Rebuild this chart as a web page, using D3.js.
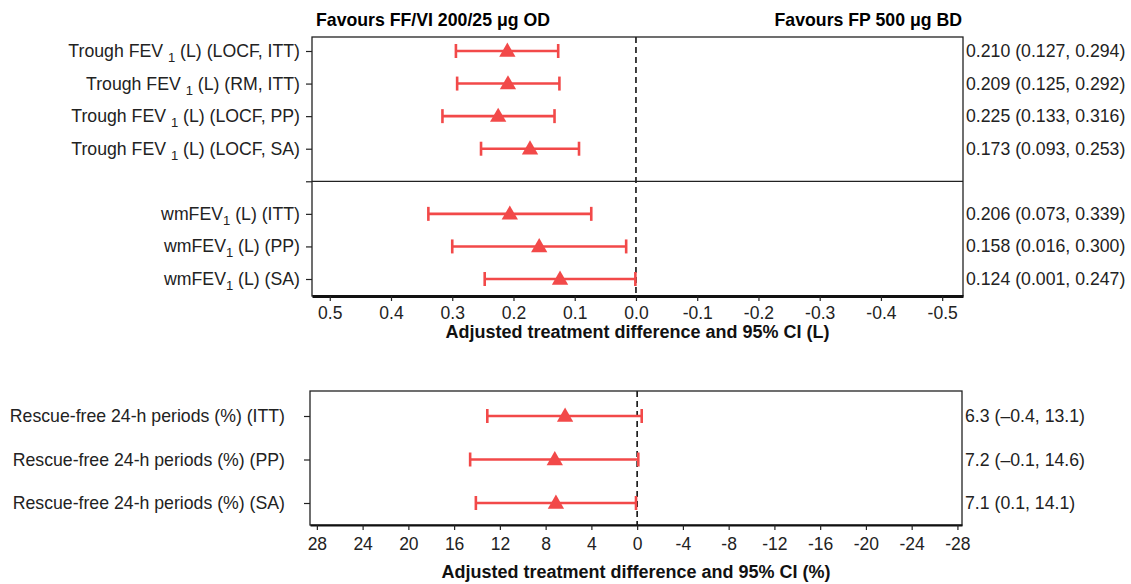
<!DOCTYPE html>
<html>
<head>
<meta charset="utf-8">
<script src="https://cdn.jsdelivr.net/npm/d3@7"></script>
<style>
  body { margin: 0; background: #fff; }
  text { font-family: "Liberation Sans", Arial, sans-serif; }
</style>
</head>
<body>
<svg width="1131" height="584"></svg>
<script>
// FEV1 rows (top panel)
var troughLabels = ["(LOCF, ITT)", "(RM, ITT)", "(LOCF, PP)", "(LOCF, SA)"];
var troughEst = [0.210, 0.209, 0.225, 0.173];
var troughLo = [0.127, 0.125, 0.133, 0.093];
var troughHi = [0.294, 0.292, 0.316, 0.253];

var wmLabels = ["(ITT)", "(PP)", "(SA)"];
var wmEst = [0.206, 0.158, 0.124];
var wmLo = [0.073, 0.016, 0.001];
var wmHi = [0.339, 0.300, 0.247];

var topTicks = [0.5, 0.4, 0.3, 0.2, 0.1, 0, -0.1, -0.2, -0.3, -0.4, -0.5];

// rescue-free rows (bottom panel)
var rescueLabels = ["(ITT)", "(PP)", "(SA)"];
var rescueEst = [6.3, 7.2, 7.1];
var rescueLo = [-0.4, -0.1, 0.1];
var rescueHi = [13.1, 14.6, 14.1];

var bottomTicks = [28, 24, 20, 16, 12, 8, 4, 0, -4, -8, -12, -16, -20, -24, -28];

var red = "#f24949";
var fs = 17.7;
var svg = d3.select("svg");

// ---- top panel ----
var x1 = d3.scaleLinear().domain([0.529, -0.534]).range([312, 963]);
var y1 = d3.scaleLinear().domain([0, 7]).range([51, 279]);

var topRows = [];
troughLabels.forEach(function(l, i) {
    topRows.push({pre: "Trough FEV ", post: " (L) " + l, idx: i,
        est: troughEst[i], lo: troughLo[i], hi: troughHi[i]});
});
wmLabels.forEach(function(l, i) {
    topRows.push({pre: "wmFEV", post: " (L) " + l, idx: i + 5,
        est: wmEst[i], lo: wmLo[i], hi: wmHi[i]});
});

var f3 = d3.format(".3f");
var f1 = function(v) { return d3.format(".1f")(v).replace("\u2212", "\u2013"); };

drawPanel({
    x: x1, y: y1, top: 37, bottom: 296,
    rows: topRows, ticks: topTicks,
    tickFmt: function(d) { return d3.format(".1f")(d).replace("\u2212", "-"); },
    valFmt: f3, labelX: 300, leftTicks: [0, 1, 2, 3, 4, 5, 6, 7],
    title: "Adjusted treatment difference and 95% CI (L)", titleY: 338,
    tickPad: 6, thickBottom: true
});

// divider between trough and wm rows
svg.append("line")
    .attr("x1", x1.range()[0]).attr("x2", x1.range()[1])
    .attr("y1", y1(4)).attr("y2", y1(4))
    .attr("stroke", "#222").attr("stroke-width", 1.3);

svg.append("text").attr("x", 316).attr("y", 26)
    .attr("font-size", fs).attr("font-weight", "bold")
    .text("Favours FF/VI 200/25 \u03bcg OD");
svg.append("text").attr("x", 962).attr("y", 26)
    .attr("font-size", fs).attr("font-weight", "bold").attr("text-anchor", "end")
    .text("Favours FP 500 \u03bcg BD");

// ---- bottom panel ----
var x2 = d3.scaleLinear().domain([28.6, -28.4]).range([310, 962]);
var y2 = d3.scaleLinear().domain([0, 2]).range([416, 503]);

var bottomRows = rescueLabels.map(function(l, i) {
    return {pre: "Rescue-free 24-h periods (%) " + l, post: null, idx: i,
        est: rescueEst[i], lo: rescueLo[i], hi: rescueHi[i]};
});

drawPanel({
    x: x2, y: y2, top: 391, bottom: 525,
    rows: bottomRows, ticks: bottomTicks,
    tickFmt: function(d) { return String(d); },
    valFmt: f1, labelX: 285, leftTicks: [0, 1, 2],
    title: "Adjusted treatment difference and 95% CI (%)", titleY: 578,
    tickPad: 8, thickBottom: false
});

function drawPanel(p) {
    var g = svg.append("g");
    var xl = p.x.range()[0], xr = p.x.range()[1];

    // zero reference line
    g.append("line")
        .attr("x1", p.x(0)).attr("x2", p.x(0))
        .attr("y1", p.top).attr("y2", p.bottom)
        .attr("stroke", "#111").attr("stroke-width", 1.6)
        .attr("stroke-dasharray", "6,4");

    // frame
    g.append("rect")
        .attr("x", xl).attr("y", p.top)
        .attr("width", xr - xl).attr("height", p.bottom - p.top)
        .attr("fill", "none").attr("stroke", "#222").attr("stroke-width", 1.3);

    // x axis
    var ax = g.append("g")
        .attr("transform", "translate(0," + p.bottom + ")")
        .call(d3.axisBottom(p.x).tickValues(p.ticks).tickFormat(p.tickFmt)
            .tickSize(5).tickSizeOuter(0).tickPadding(p.tickPad));
    ax.select(".domain").attr("stroke", "#111")
        .attr("stroke-width", p.thickBottom ? 3 : 1.8);
    ax.selectAll(".tick line").attr("stroke", "#222").attr("stroke-width", 1.2);
    ax.selectAll(".tick text").attr("font-size", 17.5).attr("fill", "#222")
        .attr("font-family", "Liberation Sans, Arial, sans-serif");

    // y axis ticks
    var ay = g.append("g")
        .attr("transform", "translate(" + xl + ",0)")
        .call(d3.axisLeft(p.y).tickValues(p.leftTicks).tickFormat("")
            .tickSize(6).tickSizeOuter(0));
    ay.select(".domain").remove();
    ay.selectAll(".tick line").attr("stroke", "#222").attr("stroke-width", 1.2);

    // row labels
    p.rows.forEach(function(r) {
        var t = g.append("text")
            .attr("x", p.labelX).attr("y", p.y(r.idx) + 6)
            .attr("text-anchor", "end").attr("font-size", fs).attr("fill", "#222");
        t.append("tspan").text(r.pre);
        if (r.post !== null) {
            t.append("tspan").attr("dy", 5).attr("font-size", 13).text("1");
            t.append("tspan").attr("dy", -5).text(r.post);
        }
    });

    // CI bars
    var rows = g.selectAll("g.row").data(p.rows).enter().append("g").attr("class", "row");
    rows.append("line")
        .attr("x1", function(d) { return p.x(d.hi); })
        .attr("x2", function(d) { return p.x(d.lo); })
        .attr("y1", function(d) { return p.y(d.idx); })
        .attr("y2", function(d) { return p.y(d.idx); })
        .attr("stroke", red).attr("stroke-width", 2.6);
    ["lo", "hi"].forEach(function(k) {
        rows.append("line")
            .attr("x1", function(d) { return p.x(d[k]); })
            .attr("x2", function(d) { return p.x(d[k]); })
            .attr("y1", function(d) { return p.y(d.idx) - 7; })
            .attr("y2", function(d) { return p.y(d.idx) + 7; })
            .attr("stroke", red).attr("stroke-width", 2.6);
    });
    rows.append("path")
        .attr("d", d3.symbol().type(d3.symbolTriangle).size(115))
        .attr("transform", function(d) {
            return "translate(" + p.x(d.est) + "," + (p.y(d.idx) + 1) + ")";
        })
        .attr("fill", red);

    // estimate text on the right
    g.selectAll("text.val").data(p.rows).enter().append("text")
        .attr("class", "val")
        .attr("x", xr + 3)
        .attr("y", function(d) { return p.y(d.idx) + 6; })
        .attr("font-size", fs).attr("fill", "#222")
        .text(function(d) {
            return p.valFmt(d.est) + " (" + p.valFmt(d.lo) + ", " + p.valFmt(d.hi) + ")";
        });

    // axis title
    g.append("text")
        .attr("x", (xl + xr) / 2).attr("y", p.titleY)
        .attr("text-anchor", "middle").attr("font-size", 18).attr("font-weight", "bold")
        .attr("fill", "#111")
        .text(p.title);
}
</script>
</body>
</html>
